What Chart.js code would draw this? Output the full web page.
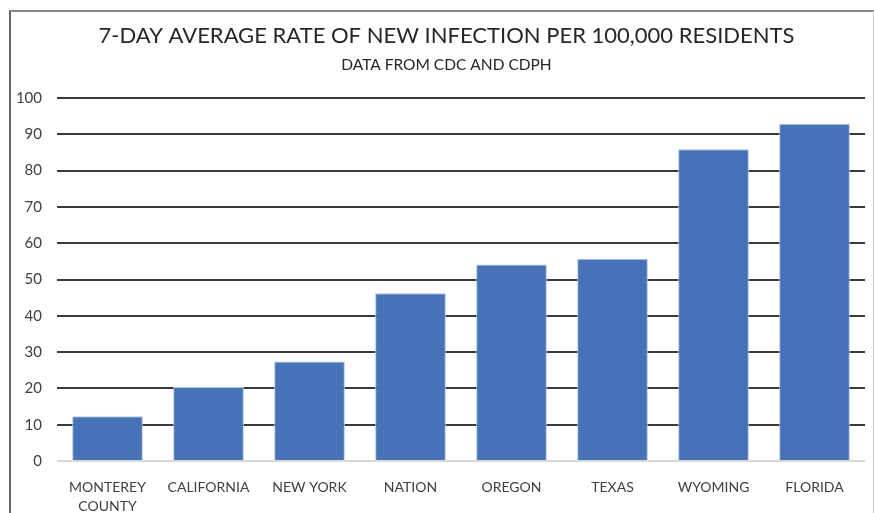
<!DOCTYPE html>
<html>
<head>
  <title>7-Day Average Rate of New Infection</title>
  <script src="https://cdn.jsdelivr.net/npm/chart.js"></script>
  <style>
    body { margin: 0; background: #fff; }
    #frame {
      position: absolute; left: 9px; top: 10px; width: 862px; height: 560px;
      border-left: 2px solid #666; border-top: 2px solid #888; border-right: 1px solid #ccc;
    }
    #chart { position: absolute; left: 0; top: 0; }
  </style>
</head>
<body>
  <div id="frame"></div>
  <canvas id="chart" width="874" height="513"></canvas>

  <script>
    const categories = [['MONTEREY', 'COUNTY'], 'CALIFORNIA', 'NEW YORK', 'NATION', 'OREGON', 'TEXAS', 'WYOMING', 'FLORIDA'];
    const rates = [12.3, 20.4, 27.4, 46.2, 54.1, 55.7, 85.9, 92.9];
    const yTicks = [0, 10, 20, 30, 40, 50, 60, 70, 80, 90, 100];

    const font = 'Lato, "Open Sans", sans-serif';

    // titles in the original sit a bit right of the canvas centre
    const shiftTitles = {
      id: 'shiftTitles',
      afterLayout(chart) {
        chart.boxes.forEach(b => {
          if (b.options && b.options.text !== undefined && b.position === 'top') {
            b.left += 14;
            b.right += 14;
          }
        });
      }
    };

    new Chart(document.getElementById('chart'), {
      type: 'bar',
      data: {
        labels: categories,
        datasets: [{
          data: rates,
          backgroundColor: '#4872b8',
          borderColor: '#b4c7e7',
          borderWidth: 1,
          categoryPercentage: 1,
          barPercentage: 0.7
        }]
      },
      options: {
        responsive: false,
        animation: false,
        devicePixelRatio: 1,
        layout: { padding: { left: 0, right: 9, top: 0, bottom: 0 } },
        plugins: {
          legend: { display: false },
          tooltip: { enabled: false },
          title: {
            display: true,
            text: '7-DAY AVERAGE RATE OF NEW INFECTION PER 100,000 RESIDENTS',
            color: '#262626',
            font: { family: font, size: 22, weight: 'normal' },
            padding: { top: 23, bottom: 6 }
          },
          subtitle: {
            display: true,
            text: 'DATA FROM CDC AND CDPH',
            color: '#262626',
            font: { family: font, size: 15.5, weight: 'normal' },
            padding: { top: 0, bottom: 24 }
          }
        },
        scales: {
          x: {
            grid: { display: false },
            border: { display: false },
            ticks: {
              color: '#404040',
              font: { family: font, size: 14, lineHeight: 1.35 },
              padding: 9,
              maxRotation: 0,
              autoSkip: false
            },
            afterFit: function (scale) { scale.height = 52; }
          },
          y: {
            min: 0,
            max: 100,
            afterBuildTicks: function (scale) {
              scale.ticks = yTicks.map(v => ({ value: v }));
            },
            grid: {
              color: ctx => ctx.tick && ctx.tick.value === 0 ? '#d9d9d9' : '#3a3a3a',
              lineWidth: 2,
              drawTicks: false
            },
            border: { display: false },
            ticks: {
              color: '#404040',
              font: { family: font, size: 15 },
              padding: 15
            },
            afterFit: function (scale) { scale.width = 57; }
          }
        }
      },
      plugins: [shiftTitles]
    });
  </script>
</body>
</html>
